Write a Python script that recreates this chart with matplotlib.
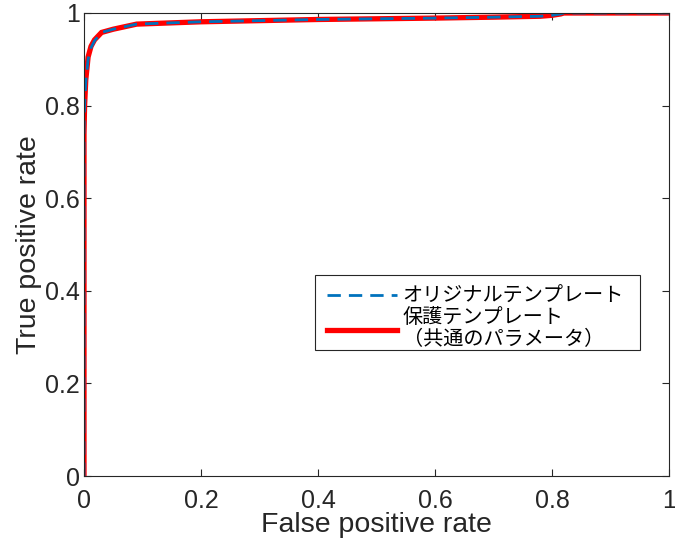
import matplotlib
matplotlib.use("Agg")
import matplotlib.pyplot as plt
from matplotlib.patches import Rectangle

fpr_orig = [0.0, 0.0, 0.001, 0.003, 0.007, 0.012, 0.018, 0.03, 0.05, 0.09, 0.2, 0.4, 0.6, 0.7, 0.78, 0.8, 0.815, 0.82, 1.0]
tpr_orig = [0.0, 0.75, 0.80, 0.85, 0.90, 0.925, 0.94, 0.958, 0.965, 0.976, 0.981, 0.986, 0.989, 0.991, 0.993, 0.995, 0.998, 1.0, 1.0]
fpr_prot = [0.0, 0.0, 0.001, 0.003, 0.007, 0.012, 0.018, 0.03, 0.05, 0.09, 0.2, 0.4, 0.6, 0.7, 0.78, 0.8, 0.815, 0.82, 1.0]
tpr_prot = [0.0, 0.74, 0.80, 0.855, 0.905, 0.928, 0.942, 0.958, 0.965, 0.976, 0.981, 0.986, 0.989, 0.991, 0.993, 0.995, 0.998, 1.0, 1.0]

xticks = [0, 0.2, 0.4, 0.6, 0.8, 1]
yticks = [0, 0.2, 0.4, 0.6, 0.8, 1]
xtick_labels = ["0", "0.2", "0.4", "0.6", "0.8", "1"]
ytick_labels = ["0", "0.2", "0.4", "0.6", "0.8", "1"]

plt.rcParams['font.family'] = ['Liberation Sans', 'Noto Sans CJK JP', 'DejaVu Sans']

fig = plt.figure(figsize=(6.75, 5.43), dpi=100)
ax = fig.add_axes([84/675, 1 - 476/543, 585/675, 463/543])

l2, = ax.plot(fpr_prot, tpr_prot, color='#ff0000', lw=3.8, solid_joinstyle='miter')
l1, = ax.plot(fpr_orig, tpr_orig, color='#0072bd', lw=2.0, dashes=(4.8, 2.9))

ax.set_xlim(0, 1)
ax.set_ylim(0, 1)
ax.set_xticks(xticks)
ax.set_xticklabels(xtick_labels)
ax.set_yticks(yticks)
ax.set_yticklabels(ytick_labels)
ax.tick_params(direction='in', length=5, width=0.8, labelsize=18, colors='#262626', top=True, right=True)
ax.tick_params(axis='x', pad=9)
ax.tick_params(axis='y', pad=3)
for s in ax.spines.values():
    s.set_color('#262626')
    s.set_linewidth(0.8)

ax.set_xlabel('False positive rate', fontsize=20.5, labelpad=0, color='#262626')
ax.set_ylabel('True positive rate', fontsize=20.5, labelpad=2, color='#262626')

# legend frame
frame = Rectangle((0.395, 0.272), 0.555, 0.162, transform=ax.transAxes,
                  facecolor='white', edgecolor='#262626', lw=0.8, zorder=4)
ax.add_patch(frame)

leg = ax.legend([l1, l2], ['オリジナルテンプレート', '保護テンプレート\n（共通のパラメータ）'],
                loc='upper left', bbox_to_anchor=(0.4154, 0.410),
                prop={'family': ['Noto Sans CJK JP', 'DejaVu Sans'], 'size': 14.5},
                frameon=False, borderpad=0, labelspacing=0.0, handlelength=3.5,
                handletextpad=0.25, borderaxespad=0)
leg.set_zorder(5)
for t in leg.get_texts():
    t.set_linespacing(1.05)

fig.savefig('out.png', dpi=100)
